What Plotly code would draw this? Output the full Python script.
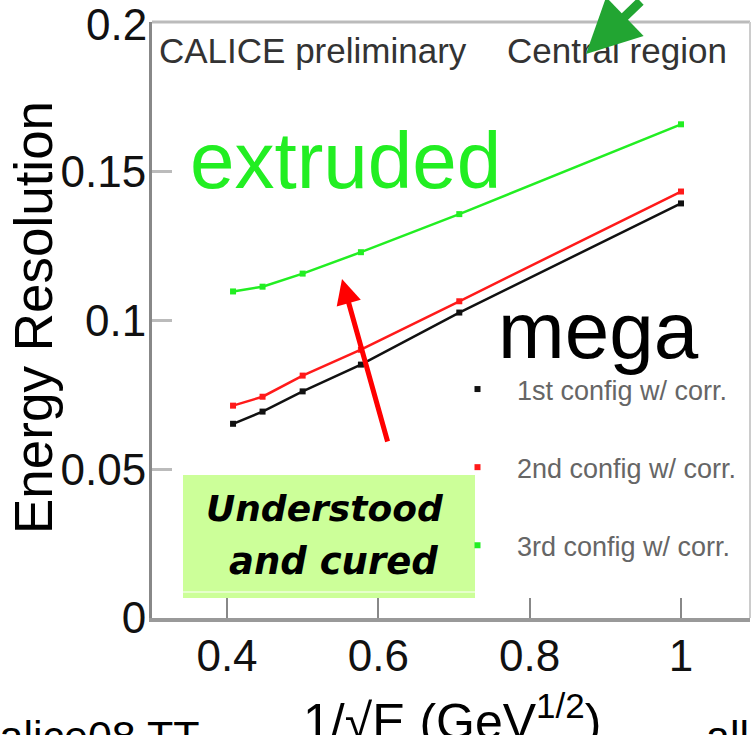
import plotly.graph_objects as go

# ---- data ----
inv_sqrt_e = [0.408, 0.447, 0.5, 0.577, 0.707, 1.0]
res_1st = [0.0653, 0.0694, 0.0762, 0.0852, 0.1027, 0.1394]
res_2nd = [0.0714, 0.0744, 0.0815, 0.0902, 0.1065, 0.1434]
res_3rd = [0.1098, 0.1114, 0.1158, 0.1230, 0.1358, 0.1660]
series_names = ["1st config w/ corr.", "2nd config w/ corr.", "3rd config w/ corr."]
x_ticks = [0.4, 0.6, 0.8, 1.0]
x_tick_labels = ["0.4", "0.6", "0.8", "1"]
y_ticks = [0, 0.05, 0.1, 0.15, 0.2]
y_tick_labels = ["0", "0.05", "0.1", "0.15", "0.2"]

W, H = 752, 735
L, R, T, B = 152, 2, 22, 117
PW, PH = W - L - R, H - T - B


def px(xp):
    return (xp - L) / PW


def py(yp):
    return (H - B - yp) / PH


colors = ["#111111", "#ff1a1a", "#22ee22"]
fig = go.Figure()
for i, (vals, col) in enumerate(zip([res_1st, res_2nd, res_3rd], colors)):
    fig.add_trace(go.Scatter(x=inv_sqrt_e, y=vals, mode="lines", line=dict(color=col, width=2.5),
                             showlegend=False, hoverinfo="skip"))
for i, (vals, col) in enumerate(zip([res_1st, res_2nd, res_3rd], colors)):
    fig.add_trace(go.Scatter(x=inv_sqrt_e, y=vals, mode="markers", name=series_names[i],
                             legendgroup=f"g{i}",
                             marker=dict(color=col, size=6, symbol="square")))

ann = []
txt_font = "Liberation Sans, Arial, sans-serif"
ann.append(dict(text="CALICE preliminary", x=px(157), y=py(50), xref="paper", yref="paper",
                xanchor="left", yanchor="middle", showarrow=False,
                font=dict(family=txt_font, size=35, color="#333333")))
ann.append(dict(text="Central region", x=px(505), y=py(50), xref="paper", yref="paper",
                xanchor="left", yanchor="middle", showarrow=False,
                font=dict(family=txt_font, size=35, color="#333333")))
ann.append(dict(text="extruded", x=px(188), y=py(161), xref="paper", yref="paper",
                xanchor="left", yanchor="middle", showarrow=False,
                font=dict(family=txt_font, size=80, color="#22ee22")))
ann.append(dict(text="mega", x=px(496), y=py(330), xref="paper", yref="paper",
                xanchor="left", yanchor="middle", showarrow=False,
                font=dict(family=txt_font, size=80, color="#000000")))
ann.append(dict(text="Understood", x=px(325), y=py(508), xref="paper", yref="paper",
                xanchor="center", yanchor="middle", showarrow=False,
                font=dict(family="DejaVu Sans", size=36, color="#000000", weight="bold", style="italic")))
ann.append(dict(text="and cured", x=px(333), y=py(561), xref="paper", yref="paper",
                xanchor="center", yanchor="middle", showarrow=False,
                font=dict(family="DejaVu Sans", size=37, color="#000000", weight="bold", style="italic")))
# arrows
ann.append(dict(text="", x=px(342), y=py(279), xref="paper", yref="paper", showarrow=True,
                ax=46, ay=164, arrowhead=2, arrowsize=1, arrowwidth=5, arrowcolor="#ff0000"))
ann.append(dict(text="", x=px(586), y=py(54), xref="paper", yref="paper", showarrow=True,
                ax=56, ay=-80, arrowhead=2, arrowsize=1.2, arrowwidth=9, arrowcolor="#22a532"))
# axis titles
ann.append(dict(text="Energy Resolution", x=px(34), y=py(318), xref="paper", yref="paper",
                textangle=-90, showarrow=False, xanchor="center", yanchor="middle",
                font=dict(family=txt_font, size=53, color="#000000")))
ann.append(dict(text="1/√E (GeV<sup>1/2</sup>)", x=px(452), y=py(718), xref="paper", yref="paper",
                showarrow=False, xanchor="center", yanchor="middle",
                font=dict(family=txt_font, size=50, color="#000000")))
ann.append(dict(text="calice08 TT", x=px(-24), y=py(736), xref="paper", yref="paper",
                showarrow=False, xanchor="left", yanchor="middle",
                font=dict(family=txt_font, size=43, color="#000000")))
ann.append(dict(text="all", x=px(704), y=py(736), xref="paper", yref="paper",
                showarrow=False, xanchor="left", yanchor="middle",
                font=dict(family=txt_font, size=43, color="#000000")))
# top y tick label (drawn as text so it is not dropped at the frame edge)
ann.append(dict(text=y_tick_labels[-1], x=0, y=y_ticks[-1], xref="paper", yref="y",
                xanchor="right", yanchor="middle", xshift=-3, yshift=-1, showarrow=False,
                font=dict(family=txt_font, size=44, color="#111111")))

shapes = [
    dict(type="rect", xref="paper", yref="paper", x0=px(183), x1=px(475), y0=py(598), y1=py(475),
         fillcolor="#ccff99", line=dict(width=0), layer="below"),
    dict(type="line", xref="paper", yref="paper", x0=px(183), x1=px(475), y0=py(592), y1=py(592),
         line=dict(color="#ffffff", width=1)),
    dict(type="line", xref="paper", yref="paper", x0=0, x1=1, y0=1, y1=1,
         line=dict(color="#bbbbbb", width=3)),
    dict(type="line", xref="paper", yref="paper", x0=1, x1=1, y0=0, y1=1,
         line=dict(color="#cccccc", width=2)),
]

tick_font = dict(family=txt_font, size=44, color="#111111")
fig.update_layout(
    width=W, height=H, autosize=False,
    margin=dict(l=L, r=R, t=T, b=B, pad=0),
    paper_bgcolor="white", plot_bgcolor="white",
    annotations=ann, shapes=shapes,
    legend=dict(x=px(438), y=py(365), xanchor="left", yanchor="top",
                font=dict(family=txt_font, size=27, color="#666666"),
                bgcolor="rgba(0,0,0,0)", tracegroupgap=40, itemwidth=69),
    xaxis=dict(range=[0.3009, 1.0912], tickvals=x_ticks, ticktext=x_tick_labels,
               ticks="inside", ticklen=20, tickwidth=2, tickcolor="#888888",
               showline=True, linecolor="#999999", linewidth=4,
               showgrid=False, zeroline=False, tickfont=tick_font, ticklabelstandoff=-4),
    yaxis=dict(range=[0, 0.2004], tickvals=y_ticks[:-1], ticktext=y_tick_labels[:-1],
               ticks="inside", ticklen=20, tickwidth=3, tickcolor="#bbbbbb",
               showline=True, linecolor="#888888", linewidth=3,
               showgrid=False, zeroline=False, tickfont=tick_font, ticklabelstandoff=-6),
)

fig.write_html("out.html")
